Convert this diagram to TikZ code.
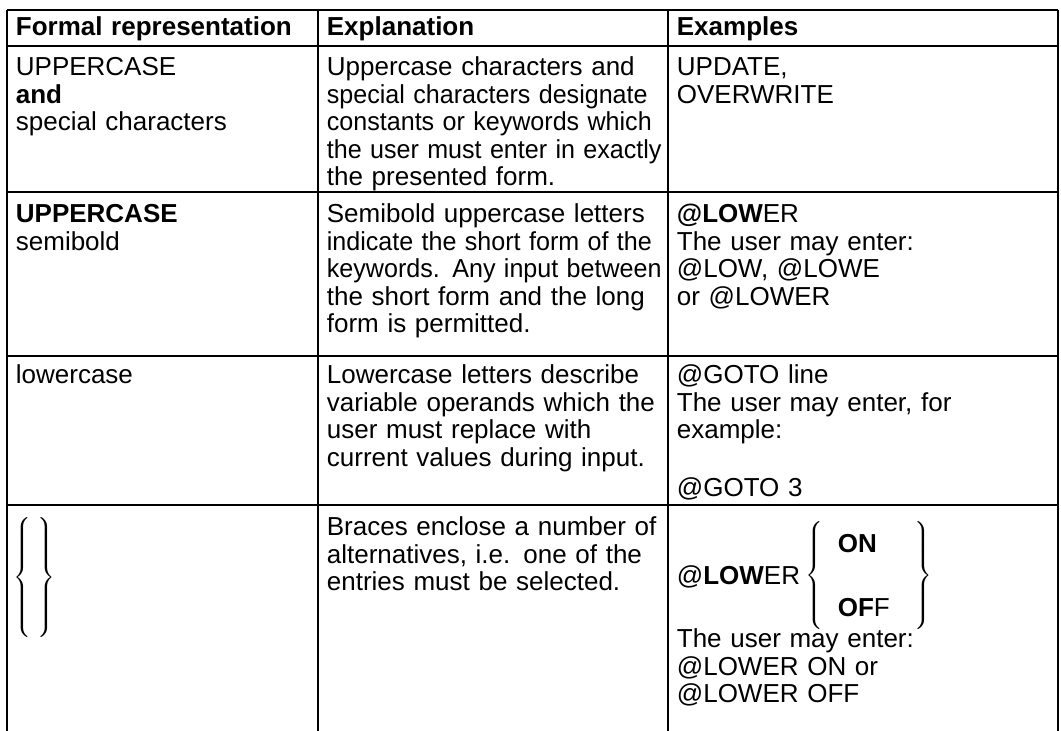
\documentclass[tikz,border=0pt]{standalone}
\usepackage{fontspec}
\usepackage{graphicx}
\setmainfont{Liberation Sans}
\usetikzlibrary{positioning}
\newcommand\squeeze[1]{\scalebox{0.965}[1]{#1}}
\begin{document}
\begin{tikzpicture}[x=0.5pt,y=-0.5pt,line width=0.9pt,
  cell/.style={anchor=base west,inner sep=0pt,align=left,font=\fontsize{13}{13.75}\selectfont},
  head/.style={font=\fontsize{13}{13.75}\selectfont\bfseries},
  colA/.style={cell,text width=150pt},
  colB/.style={cell,text width=190pt},
  colC/.style={cell,text width=185pt},
  brace/.style={inner sep=0pt}]
\useasboundingbox (0,0) rectangle (1061,731);
% grid
\draw (7,10) -- (1058,10);
\draw (7,46) -- (1058,46);
\draw (7,192) -- (1058,192);
\draw (7,356) -- (1058,356);
\draw (7,505) -- (1058,505);
\draw (7,10) -- (7,731);
\draw (318,10) -- (318,731);
\draw (668,10) -- (668,731);
\draw (1058,10) -- (1058,731);
% header
\node[colA,head] (hform) at (15,36) {Formal representation};
\node[colB,head] (hexpl) at (326,36) {Explanation};
\node[colC,head] (hex) at (676,36) {Examples};
% uppercase
\node[colA] (upper) at (15,76) {UPPERCASE\\\textbf{and}\\special characters};
\node[colB] (uexpl) at (326,76) {Uppercase characters and\\\squeeze{special characters designate}\\\squeeze{constants or keywords which}\\\squeeze{the user must enter in exactly}\\the presented form.};
\node[colC] (uex) at (676,76) {UPDATE,\\OVERWRITE};
% semibold
\node[colA] (semi) at (15,223) {\textbf{UPPERCASE}\\semibold};
\node[colB] (sexpl) at (326,223) {Semibold uppercase letters\\\squeeze{indicate the short form of the}\\\squeeze{keywords. Any input between}\\the short form and the long\\form is permitted.};
\node[colC] (sex) at (676,223) {\textbf{@LOW}ER\\The user may enter:\\@LOW, @LOWE\\or @LOWER};
% lowercase
\node[colA] (lower) at (15,384) {lowercase};
\node[colB] (lexpl) at (326,384) {Lowercase letters describe\\variable operands which the\\user must replace with\\current values during input.};
\node[colC] (lex) at (676,384) {@GOTO line\\The user may enter, for\\example:\\[15pt]@GOTO 3};
% braces
\node[brace,anchor=west] (brA) at (13,578) {$\left\{\vrule height 28pt depth 28pt width 0pt\kern3pt\right\}$};
\node[colB] (bexpl) at (326,536) {Braces enclose a number of\\alternatives, i.e. one of the\\entries must be selected.};
\node[cell] (lowr) at (676,585) {@\textbf{LOW}ER};
\node[brace,right=2pt of lowr] (lbr) {$\left\{\vrule height 26.5pt depth 26.5pt width 0pt\right.$};
\node[cell,xshift=5pt] (on) at (lbr.east |- 0,553) {\textbf{ON}};
\node[cell,xshift=5pt] (off) at (lbr.east |- 0,617) {\textbf{OF}F};
\node[brace,anchor=west,xshift=10pt] (rbr) at (off.east |- lbr.east) {$\left.\vrule height 26.5pt depth 26.5pt width 0pt\right\}$};
\node[colC] (bhint) at (676,648) {The user may enter:\\@LOWER ON or\\@LOWER OFF};
\end{tikzpicture}
\end{document}
